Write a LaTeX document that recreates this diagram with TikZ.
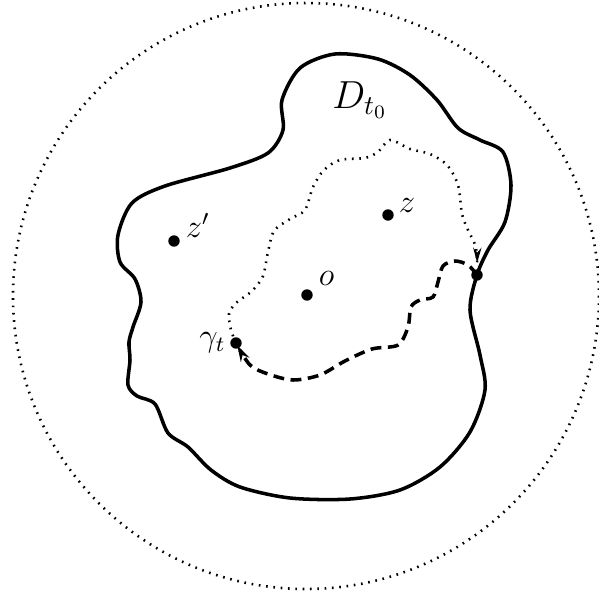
\documentclass[tikz,border=0pt]{standalone}
\usepackage{amsmath,amssymb}
\usetikzlibrary{arrows.meta,positioning}

\begin{document}
\begin{tikzpicture}[
    x=0.01294cm, y=-0.01294cm,
    dot/.style={circle, fill, inner sep=0pt, minimum size=4.2pt},
    tag/.style={inner sep=1pt, font=\large},
    boundary/.style={line width=1.3pt},
    finepath/.style={line width=0.95pt, dash pattern=on 0.6pt off 2.1pt},
    curvepath/.style={line width=1.3pt, dash pattern=on 4pt off 2.4pt}
]
\useasboundingbox (0,0) rectangle (599,598);

% outer disc
\draw[finepath] (306,296) circle [radius=293];

% the domain
\draw[boundary] plot[smooth cycle] coordinates {
    (300,68) (335,54) (378,59) (410,75) (437,100) (458,128) (480,140)
    (503,152) (511,185) (505,222) (488,250) (477,275) (470,310) (480,355)
    (485,390) (470,432) (440,467) (400,490) (350,499) (290,498) (240,487)
    (211,470) (188,447) (168,433) (155,404) (137,396) (128,385) (130,360)
    (129,342) (133,327) (141,302) (135,279) (120,262) (118,235) (132,203)
    (165,186) (230,168) (268,153) (283,130) (282,100)};

\node[dot] (g) at (236,343) {};
\node[dot] (j) at (477,275) {};
\node[dot] (o) at (307,295) {};
\node[dot] (z) at (388,215) {};
\node[dot] (zp) at (174,241) {};

% curve up to the hitting point
\draw[finepath, -{Stealth[length=5.5pt,width=3pt]}, shorten >=4.5pt] plot[smooth] coordinates {
    (g.center) (231,330) (229,314) (236,303) (252,291) (263,276) (268,252)
    (274,231) (290,219) (305,210) (313,187) (324,170) (340,160) (365,158)
    (378,152) (390,140) (410,149) (430,154) (447,165) (458,185) (462,214)
    (468,230) (476,248) (j.center)};

% the other arc
\draw[curvepath, -{Stealth[length=6pt,width=3.5pt]}, shorten >=1pt] plot[smooth] coordinates {
    (j.center) (468,265) (455,261) (443,266) (438,282) (433,297) (420,300)
    (411,307) (408,327) (398,345) (372,349) (345,361) (320,375) (293,380)
    (268,374) (250,365) (g.center)};

\node[tag, above right=0.5pt and 1.5pt of o] {$o$};
\node[tag, above right=-1.8pt and 1.2pt of z] {$z$};
\node[tag, above right=-1.6pt and 1.5pt of zp] {$z'$};
\node[tag, left=0.3pt of g] {$\gamma_t$};
\node[font=\Large] (dlab) at (360,100) {$D_{t_0}$};

\end{tikzpicture}
\end{document}
